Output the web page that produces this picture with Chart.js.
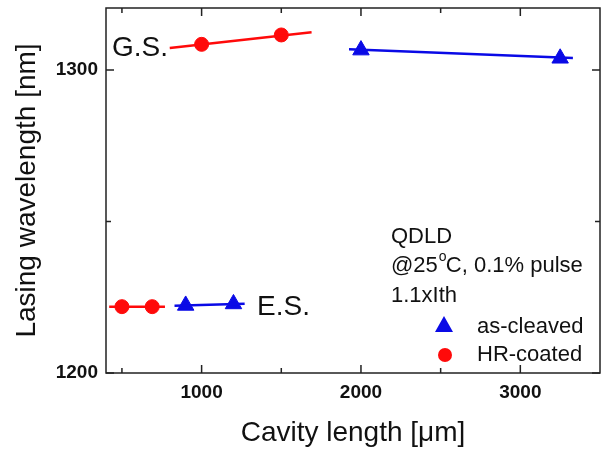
<!DOCTYPE html>
<html>
<head>
<meta charset="utf-8">
<script src="https://cdn.jsdelivr.net/npm/chart.js@4.4.0/dist/chart.umd.min.js"></script>
<style>
  html, body { margin: 0; padding: 0; background: #fff; }
  #wrap { width: 604px; height: 450px; }
</style>
</head>
<body>
<div id="wrap"><canvas id="chart" width="604" height="450"></canvas></div>
<script>
// data
var gsHrX = [1000, 1500];
var gsHrY = [1308.5, 1311.6];
var gsHrFitX = [800, 1690];
var gsHrFitY = [1307.3, 1312.5];

var gsAcX = [2000, 3250];
var gsAcY = [1306.6, 1303.9];
var gsAcFitX = [1925, 3330];
var gsAcFitY = [1306.9, 1304.0];

var esHrX = [500, 690];
var esHrY = [1221.9, 1221.9];
var esHrFitX = [420, 770];
var esHrFitY = [1221.9, 1221.9];

var esAcX = [900, 1200];
var esAcY = [1222.3, 1222.8];
var esAcFitX = [830, 1270];
var esAcFitY = [1222.2, 1222.9];

var xMajor = [1000, 2000, 3000];
var xMinor = [500, 1500, 2500];
var yMajor = [1200, 1300];
var yMinor = [1250];

var RED = '#ff0a0a';
var BLUE = '#0a0ae6';
var FONT = '"Liberation Sans", Arial, sans-serif';

function pts(xs, ys) {
    var out = [];
    for (var i = 0; i < xs.length; i++) out.push({x: xs[i], y: ys[i]});
    return out;
}

function fitSet(xs, ys, color) {
    return {
        data: pts(xs, ys), showLine: true, borderColor: color, borderWidth: 2.5,
        pointRadius: 0, fill: false
    };
}

function markSet(xs, ys, color, style) {
    return {
        data: pts(xs, ys), showLine: false, pointStyle: style,
        pointRadius: style === 'triangle' ? 9.5 : 7,
        backgroundColor: color, borderColor: color, borderWidth: 1
    };
}

//Ticks inside the frame, labels, legend
var decor = {
    id: 'decor',
    afterDraw: function (chart) {
        var c = chart.ctx, a = chart.chartArea;
        var xs = chart.scales.x, ys = chart.scales.y;
        c.save();
        c.strokeStyle = '#222';
        c.lineWidth = 1.5;
        c.strokeRect(a.left, a.top, a.right - a.left, a.bottom - a.top);

        c.beginPath();
        xMajor.concat(xMinor).forEach(function (v) {
            var len = xMajor.indexOf(v) >= 0 ? 8 : 5;
            var px = xs.getPixelForValue(v);
            c.moveTo(px, a.bottom); c.lineTo(px, a.bottom - len);
            c.moveTo(px, a.top); c.lineTo(px, a.top + len);
        });
        yMajor.concat(yMinor).forEach(function (v) {
            var len = yMajor.indexOf(v) >= 0 ? 8 : 5;
            var py = ys.getPixelForValue(v);
            c.moveTo(a.left, py); c.lineTo(a.left + len, py);
            c.moveTo(a.right, py); c.lineTo(a.right - len, py);
        });
        c.stroke();

        c.fillStyle = '#111';
        c.textBaseline = 'middle';
        c.font = '28px ' + FONT;
        c.textAlign = 'left';
        c.fillText('G.S.', 112, 48);
        c.fillText('E.S.', 257, 307);

        c.font = '22px ' + FONT;
        c.fillText('QDLD', 391, 237);
        c.fillText('@25', 391, 266);
        var w = c.measureText('@25').width;
        c.font = '14px ' + FONT;
        c.fillText('o', 391 + w + 1, 257);
        c.font = '22px ' + FONT;
        c.fillText('C, 0.1% pulse', 391 + w + 8, 266);
        c.fillText('1.1xIth', 391, 296);
        c.fillText('as-cleaved', 477, 327);
        c.fillText('HR-coated', 477, 355);

        // legend marks
        c.fillStyle = BLUE;
        c.beginPath();
        c.moveTo(444, 316); c.lineTo(453, 332); c.lineTo(435, 332); c.closePath();
        c.fill();
        c.fillStyle = RED;
        c.beginPath();
        c.arc(445, 355, 7, 0, Math.PI * 2);
        c.fill();
        c.restore();
    }
};

var chart = new Chart(document.getElementById('chart'), {
    type: 'scatter',
    data: {
        datasets: [
            fitSet(gsHrFitX, gsHrFitY, RED),
            fitSet(gsAcFitX, gsAcFitY, BLUE),
            fitSet(esHrFitX, esHrFitY, RED),
            fitSet(esAcFitX, esAcFitY, BLUE),
            markSet(gsHrX, gsHrY, RED, 'circle'),
            markSet(gsAcX, gsAcY, BLUE, 'triangle'),
            markSet(esHrX, esHrY, RED, 'circle'),
            markSet(esAcX, esAcY, BLUE, 'triangle')
        ]
    },
    options: {
        responsive: false,
        animation: false,
        layout: { autoPadding: false, padding: { top: 8, right: 4 } },
        plugins: { legend: { display: false }, tooltip: { enabled: false } },
        scales: {
            x: {
                type: 'linear', min: 400, max: 3500,
                afterFit: function (s) {
                    s.height = 77;
                    s.paddingLeft = 0; s.paddingRight = 0;
                },
                grid: { display: false },
                border: { display: false },
                afterBuildTicks: function (s) {
                    s.ticks = xMajor.map(function (v) { return {value: v}; });
                },
                ticks: {
                    color: '#111', padding: 0,
                    callback: function (v) { return String(v); },
                    font: { family: FONT, size: 19, weight: 'bold' }
                },
                title: {
                    display: true, text: 'Cavity length [\u03bcm]', color: '#111',
                    font: { family: FONT, size: 28 },
                    padding: { top: 14, bottom: 0 }
                }
            },
            y: {
                type: 'linear', min: 1200, max: 1320.5,
                afterFit: function (s) {
                    s.width = 106;
                    s.paddingTop = 0; s.paddingBottom = 0;
                },
                grid: { display: false },
                border: { display: false },
                afterBuildTicks: function (s) {
                    s.ticks = yMajor.map(function (v) { return {value: v}; });
                },
                ticks: {
                    color: '#111', padding: 0,
                    callback: function (v) { return String(v); },
                    font: { family: FONT, size: 19, weight: 'bold' }
                },
                title: {
                    display: true, text: 'Lasing wavelength [nm]', color: '#111',
                    font: { family: FONT, size: 28 },
                    padding: { top: 10, bottom: 0 }
                }
            }
        }
    },
    plugins: [decor]
});
</script>
</body>
</html>
